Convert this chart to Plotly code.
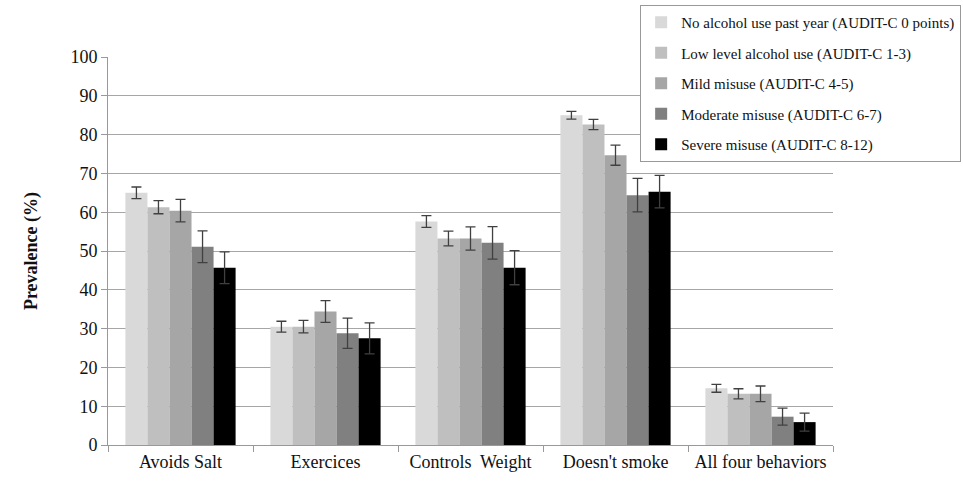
import plotly.graph_objects as go

categories = ["Avoids Salt", "Exercices", "Controls  Weight", "Doesn't smoke", "All four behaviors"]
series_names = [
    "No alcohol use past year (AUDIT-C 0 points)",
    "Low level alcohol use (AUDIT-C 1-3)",
    "Mild misuse (AUDIT-C 4-5)",
    "Moderate misuse (AUDIT-C 6-7)",
    "Severe misuse (AUDIT-C 8-12)",
]
no_alcohol = [65.0, 30.5, 57.6, 85.0, 14.6]
no_alcohol_err = [1.5, 1.4, 1.5, 1.0, 1.0]
low_level = [61.3, 30.5, 53.2, 82.6, 13.2]
low_level_err = [1.7, 1.6, 1.9, 1.3, 1.3]
mild = [60.4, 34.4, 53.2, 74.7, 13.2]
mild_err = [2.9, 2.8, 3.0, 2.6, 2.0]
moderate = [51.1, 28.8, 52.1, 64.4, 7.3]
moderate_err = [4.1, 3.9, 4.2, 4.3, 2.2]
severe = [45.7, 27.5, 45.7, 65.3, 5.9]
severe_err = [4.1, 4.0, 4.4, 4.2, 2.3]
y_ticks = [0, 10, 20, 30, 40, 50, 60, 70, 80, 90, 100]

values = [no_alcohol, low_level, mild, moderate, severe]
errors = [no_alcohol_err, low_level_err, mild_err, moderate_err, severe_err]
colors = ["#d9d9d9", "#bfbfbf", "#a6a6a6", "#808080", "#000000"]

font_family = "Liberation Serif"

fig = go.Figure()
for i, (name, vals, errs, col) in enumerate(zip(series_names, values, errors, colors)):
    fig.add_trace(go.Bar(
        x=categories, y=vals, name=name, legendgroup=f"g{i}",
        marker=dict(color=col, line=dict(width=0)),
        error_y=dict(type="data", array=errs, visible=True,
                     color="#404040", thickness=1.3, width=5),
    ))

fig.update_layout(
    width=963, height=483,
    margin=dict(l=108, r=130, t=57, b=38, autoexpand=False),
    paper_bgcolor="white", plot_bgcolor="white",
    barmode="group", bargap=0.24, bargroupgap=0,
    font=dict(family=font_family, size=17, color="#111111"),
    showlegend=True,
    legend=dict(
        x=0.734, y=1.134, xanchor="left", yanchor="top",
        bgcolor="white", bordercolor="#999999", borderwidth=1,
        font=dict(family=font_family, size=15, color="#111111"),
        traceorder="grouped", itemwidth=30, tracegroupgap=8,
    ),
    xaxis=dict(
        showline=True, linecolor="#999999", linewidth=1,
        ticks="outside", tickson="boundaries", ticklen=6, tickcolor="#999999",
        tickfont=dict(family=font_family, size=18),
        showgrid=False,
    ),
    yaxis=dict(
        range=[0, 100], tickvals=y_ticks,
        showline=True, linecolor="#999999", linewidth=1,
        ticks="outside", ticklen=6, tickcolor="#999999",
        showgrid=True, gridcolor="#a6a6a6", gridwidth=1,
        tickfont=dict(family=font_family, size=18),
        title=dict(text="<b>Prevalence (%)</b>", font=dict(family=font_family, size=18), standoff=28),
        zeroline=False,
    ),
)

fig.write_html("out.html", config={"displayModeBar": False},
               post_script="document.body.style.margin='0px';")
